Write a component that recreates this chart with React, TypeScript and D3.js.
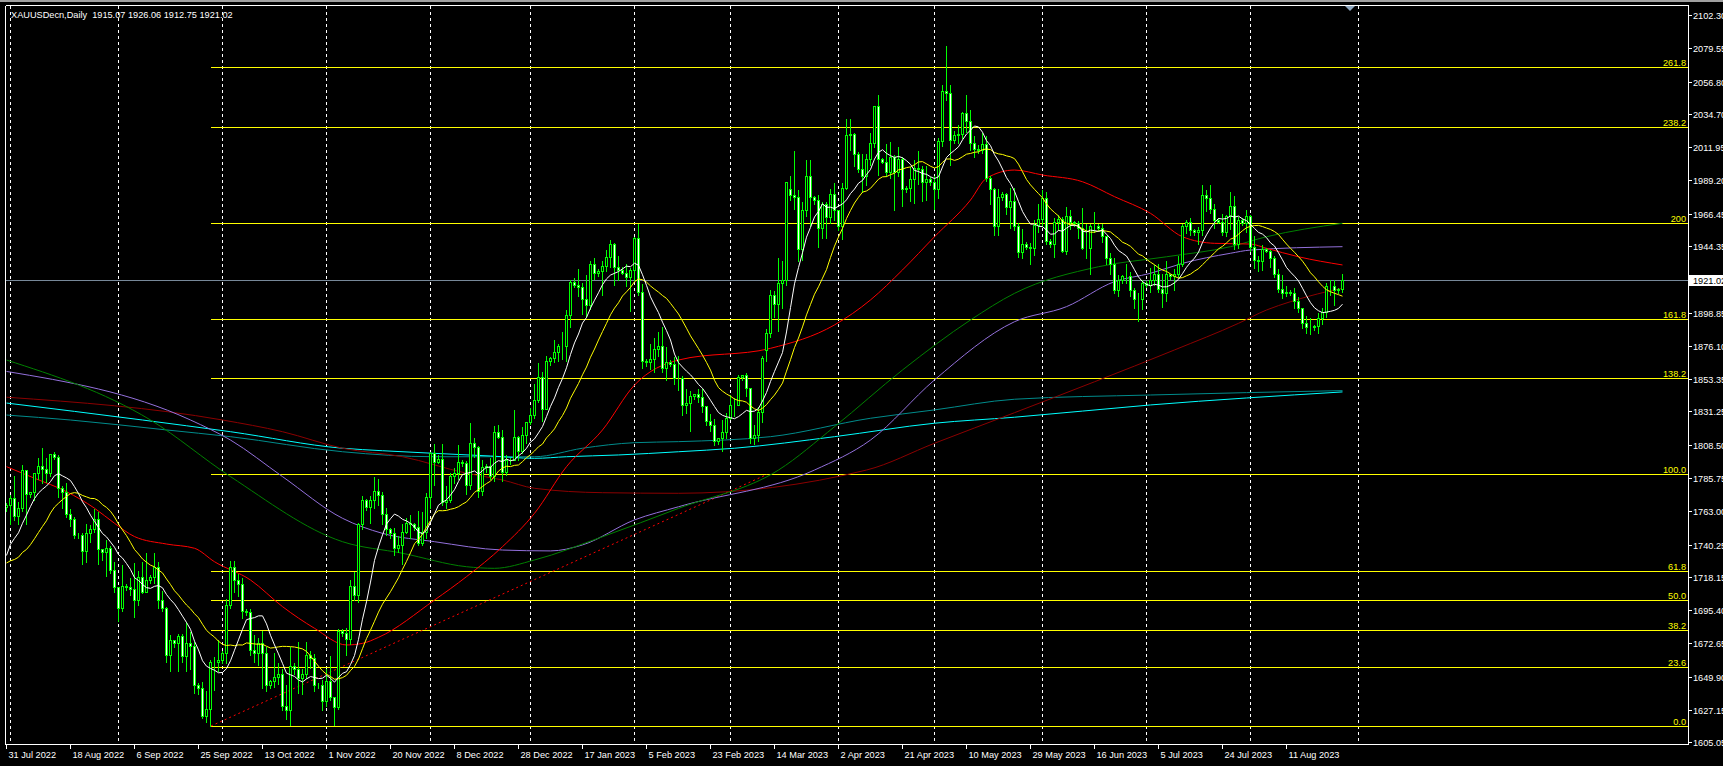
import React, { useEffect } from "react";
import * as d3 from "d3";

// ---------- Daily candles [open, high, low, close] by month (Sun–Fri bars) ----------
const jul22 = [[1766, 1769, 1763, 1767]];
const aug22 = [
  [1767, 1775, 1754, 1772], [1772, 1788, 1757, 1760], [1760, 1770, 1754, 1765], [1765, 1795, 1763, 1791], [1791, 1792, 1754, 1775],
  [1775, 1777, 1773, 1776], [1776, 1790, 1771, 1789], [1789, 1800, 1785, 1794], [1794, 1807, 1782, 1792], [1792, 1800, 1783, 1789], [1789, 1803, 1787, 1802],
  [1802, 1804, 1799, 1800], [1800, 1802, 1773, 1779], [1779, 1781, 1765, 1776], [1776, 1783, 1759, 1761], [1761, 1765, 1753, 1758], [1758, 1760, 1745, 1747],
  [1747, 1749, 1745, 1747], [1747, 1749, 1727, 1736], [1736, 1755, 1728, 1748], [1748, 1754, 1742, 1751], [1751, 1765, 1749, 1758], [1758, 1763, 1727, 1737],
  [1737, 1738, 1730, 1735], [1735, 1744, 1719, 1738], [1738, 1740, 1721, 1723], [1723, 1729, 1708, 1711],
];
const sep22 = [
  [1711, 1712, 1688, 1697], [1697, 1727, 1695, 1712],
  [1712, 1714, 1709, 1711], [1711, 1718, 1706, 1710], [1710, 1728, 1691, 1702], [1702, 1723, 1699, 1718], [1718, 1729, 1707, 1708], [1708, 1735, 1708, 1716],
  [1716, 1720, 1714, 1718], [1718, 1735, 1714, 1725], [1725, 1729, 1697, 1702], [1702, 1709, 1695, 1697], [1697, 1698, 1660, 1665], [1665, 1679, 1654, 1675],
  [1675, 1676, 1670, 1673], [1673, 1680, 1654, 1678], [1678, 1680, 1660, 1664], [1664, 1688, 1654, 1673], [1673, 1681, 1655, 1671], [1671, 1674, 1639, 1644],
  [1644, 1646, 1638, 1642], [1642, 1647, 1622, 1623], [1623, 1641, 1619, 1628], [1628, 1662, 1616, 1660], [1660, 1664, 1641, 1660], [1660, 1676, 1654, 1661],
];
const oct22 = [
  [1661, 1668, 1659, 1666], [1666, 1704, 1659, 1699], [1699, 1730, 1697, 1725], [1725, 1730, 1708, 1716], [1716, 1721, 1705, 1713], [1713, 1718, 1690, 1695],
  [1695, 1697, 1692, 1694], [1694, 1697, 1665, 1668], [1668, 1679, 1660, 1666], [1666, 1677, 1658, 1673], [1673, 1682, 1642, 1666], [1666, 1671, 1640, 1644],
  [1644, 1648, 1642, 1647], [1647, 1667, 1643, 1650], [1650, 1660, 1645, 1652], [1652, 1656, 1627, 1630], [1630, 1645, 1621, 1627], [1627, 1671, 1617, 1657],
  [1657, 1660, 1652, 1655], [1655, 1674, 1639, 1649], [1649, 1656, 1638, 1652], [1652, 1674, 1649, 1665], [1665, 1668, 1656, 1663], [1663, 1666, 1640, 1644],
  [1644, 1646, 1642, 1644], [1644, 1648, 1627, 1633],
];
const nov22 = [
  [1633, 1656, 1630, 1647], [1647, 1665, 1634, 1636], [1636, 1637, 1617, 1629], [1629, 1683, 1628, 1681],
  [1681, 1683, 1678, 1680], [1680, 1684, 1665, 1676], [1676, 1717, 1672, 1712], [1712, 1722, 1702, 1706], [1706, 1756, 1701, 1754], [1754, 1774, 1751, 1771],
  [1771, 1772, 1764, 1766], [1766, 1774, 1755, 1771], [1771, 1787, 1765, 1777], [1777, 1786, 1767, 1774], [1774, 1777, 1754, 1761], [1761, 1766, 1747, 1751],
  [1751, 1752, 1745, 1748], [1748, 1752, 1733, 1738], [1738, 1747, 1735, 1740], [1740, 1755, 1727, 1749], [1749, 1759, 1748, 1755], [1755, 1761, 1745, 1754],
  [1754, 1756, 1750, 1752], [1752, 1764, 1740, 1741], [1741, 1763, 1740, 1749], [1749, 1776, 1745, 1773],
];
const dec22 = [
  [1773, 1804, 1765, 1803], [1803, 1810, 1781, 1797],
  [1797, 1802, 1796, 1799], [1799, 1810, 1767, 1769], [1769, 1781, 1765, 1771], [1771, 1790, 1769, 1787], [1787, 1793, 1782, 1789], [1789, 1809, 1785, 1797],
  [1797, 1799, 1794, 1796], [1796, 1798, 1775, 1781], [1781, 1824, 1778, 1810], [1810, 1814, 1800, 1807], [1807, 1808, 1773, 1777], [1777, 1799, 1774, 1793],
  [1793, 1796, 1790, 1794], [1794, 1800, 1785, 1787], [1787, 1822, 1784, 1817], [1817, 1823, 1813, 1814], [1814, 1819, 1784, 1790], [1790, 1802, 1788, 1798],
  [1798, 1800, 1795, 1798], [1798, 1833, 1798, 1814], [1814, 1815, 1798, 1804], [1804, 1821, 1803, 1815], [1815, 1825, 1810, 1824],
];
const jan23 = [
  [1824, 1834, 1823, 1829], [1829, 1851, 1827, 1839], [1839, 1865, 1838, 1855], [1855, 1859, 1825, 1833], [1833, 1870, 1833, 1866],
  [1866, 1869, 1863, 1868], [1868, 1881, 1865, 1872], [1872, 1878, 1866, 1876], [1876, 1886, 1867, 1876], [1876, 1901, 1866, 1897], [1897, 1922, 1889, 1920],
  [1920, 1923, 1916, 1918], [1918, 1929, 1910, 1916], [1916, 1920, 1898, 1908], [1908, 1925, 1896, 1904], [1904, 1935, 1901, 1932], [1932, 1937, 1922, 1926],
  [1926, 1929, 1924, 1927], [1927, 1935, 1911, 1931], [1931, 1942, 1927, 1937], [1937, 1949, 1930, 1946], [1946, 1947, 1918, 1930], [1930, 1938, 1921, 1928],
  [1928, 1931, 1925, 1926], [1926, 1933, 1917, 1923], [1923, 1930, 1900, 1928],
];
const feb23 = [
  [1928, 1951, 1921, 1950], [1950, 1960, 1911, 1913], [1913, 1919, 1861, 1866],
  [1866, 1868, 1862, 1865], [1865, 1878, 1860, 1867], [1867, 1882, 1858, 1874], [1874, 1886, 1869, 1876], [1876, 1890, 1858, 1861], [1861, 1876, 1853, 1865],
  [1865, 1867, 1862, 1864], [1864, 1869, 1850, 1854], [1854, 1870, 1846, 1854], [1854, 1856, 1829, 1836], [1836, 1847, 1830, 1837], [1837, 1846, 1818, 1842],
  [1842, 1844, 1840, 1843], [1843, 1847, 1838, 1841], [1841, 1847, 1831, 1835], [1835, 1836, 1822, 1825], [1825, 1830, 1818, 1822], [1822, 1827, 1808, 1811],
  [1811, 1814, 1809, 1813], [1813, 1826, 1804, 1817], [1817, 1831, 1813, 1827],
];
const mar23 = [
  [1827, 1843, 1826, 1836], [1836, 1841, 1828, 1836], [1836, 1857, 1836, 1855],
  [1855, 1857, 1853, 1856], [1856, 1858, 1842, 1847], [1847, 1848, 1810, 1813], [1813, 1823, 1809, 1815], [1815, 1835, 1811, 1831], [1831, 1870, 1824, 1868],
  [1873, 1888, 1866, 1885], [1885, 1915, 1882, 1911], [1911, 1914, 1896, 1905], [1905, 1937, 1886, 1919], [1919, 1935, 1902, 1921], [1921, 1989, 1918, 1988],
  [1983, 1993, 1976, 1979], [1979, 2010, 1970, 1978], [1978, 1983, 1934, 1942], [1942, 1975, 1935, 1969], [1969, 2004, 1965, 1992], [1992, 2004, 1958, 1978],
  [1978, 1979, 1973, 1976], [1976, 1980, 1944, 1957], [1957, 1975, 1950, 1973], [1973, 1975, 1950, 1964], [1964, 1984, 1960, 1980], [1980, 1988, 1962, 1969],
];
const apr23 = [
  [1969, 1970, 1955, 1958], [1958, 1988, 1949, 1984], [1984, 2032, 1983, 2020], [2020, 2032, 2010, 2021], [2021, 2022, 1999, 2007],
  [2007, 2009, 1995, 1997], [1997, 2008, 1981, 1992], [1992, 2008, 1986, 2004], [2004, 2022, 2000, 2015], [2015, 2041, 2012, 2040], [2040, 2048, 1993, 2004],
  [2004, 2005, 2001, 2002], [2002, 2015, 1992, 1995], [1995, 2016, 1991, 2005], [2005, 2007, 1969, 1995], [1995, 2013, 1992, 2004], [2004, 2006, 1972, 1983],
  [1983, 1986, 1981, 1984], [1984, 1999, 1975, 1990], [1990, 2004, 1974, 1998], [1998, 2010, 1987, 1997], [1997, 2000, 1975, 1988], [1988, 2000, 1976, 1990],
  [1990, 1992, 1986, 1988],
];
const may23 = [
  [1988, 1993, 1970, 1983], [1983, 2019, 1977, 2016], [2016, 2055, 2013, 2050], [2050, 2082, 2044, 2049], [2049, 2055, 2000, 2017],
  [2017, 2024, 2015, 2020], [2020, 2028, 2015, 2021], [2021, 2037, 2018, 2035], [2035, 2048, 2022, 2030], [2030, 2038, 2010, 2015], [2015, 2020, 2005, 2011],
  [2011, 2014, 2008, 2010], [2010, 2022, 2008, 2014], [2014, 2020, 1989, 1991], [1991, 1993, 1973, 1983], [1983, 1985, 1952, 1958], [1958, 1984, 1952, 1978],
  [1978, 1982, 1976, 1980], [1980, 1981, 1966, 1971], [1971, 1985, 1957, 1975], [1975, 1985, 1955, 1958], [1958, 1961, 1937, 1940], [1940, 1957, 1936, 1946],
  [1946, 1948, 1942, 1944], [1944, 1947, 1932, 1943], [1943, 1963, 1938, 1959], [1959, 1974, 1954, 1963],
];
const jun23 = [
  [1963, 1983, 1958, 1977], [1977, 1982, 1946, 1948],
  [1948, 1950, 1944, 1946], [1946, 1964, 1937, 1961], [1961, 1966, 1955, 1963], [1963, 1965, 1940, 1941], [1941, 1972, 1939, 1965], [1965, 1970, 1956, 1961],
  [1961, 1962, 1958, 1960], [1960, 1962, 1950, 1957], [1957, 1971, 1942, 1943], [1943, 1960, 1936, 1943], [1943, 1960, 1925, 1958], [1958, 1968, 1954, 1958],
  [1958, 1960, 1955, 1957], [1957, 1960, 1947, 1951], [1951, 1952, 1932, 1936], [1936, 1940, 1925, 1932], [1932, 1937, 1912, 1914], [1914, 1925, 1910, 1921],
  [1921, 1925, 1919, 1924], [1924, 1933, 1919, 1924], [1924, 1927, 1910, 1914], [1914, 1916, 1902, 1908], [1908, 1913, 1893, 1908], [1908, 1922, 1901, 1919],
];
const jul23 = [
  [1919, 1921, 1916, 1918], [1918, 1930, 1913, 1921], [1921, 1932, 1918, 1925], [1925, 1933, 1913, 1915], [1915, 1926, 1903, 1912], [1912, 1935, 1907, 1925],
  [1925, 1926, 1922, 1924], [1924, 1929, 1914, 1925], [1925, 1938, 1923, 1932], [1932, 1960, 1931, 1958], [1958, 1963, 1953, 1961], [1961, 1964, 1952, 1955],
  [1955, 1957, 1952, 1954], [1954, 1958, 1946, 1955], [1955, 1987, 1952, 1979], [1979, 1983, 1968, 1977], [1977, 1987, 1967, 1970], [1970, 1974, 1957, 1962],
  [1962, 1964, 1960, 1961], [1961, 1967, 1952, 1954], [1954, 1966, 1951, 1965], [1965, 1982, 1956, 1972], [1972, 1979, 1942, 1946], [1946, 1965, 1943, 1962],
  [1962, 1964, 1959, 1960], [1960, 1970, 1954, 1965],
];
const aug23 = [
  [1965, 1966, 1941, 1944], [1944, 1952, 1929, 1935], [1935, 1938, 1927, 1934], [1934, 1946, 1928, 1942],
  [1942, 1944, 1940, 1941], [1941, 1942, 1930, 1936], [1936, 1938, 1923, 1925], [1925, 1929, 1913, 1915], [1915, 1925, 1909, 1912], [1912, 1918, 1910, 1913],
  [1913, 1915, 1911, 1912], [1912, 1916, 1902, 1907], [1907, 1910, 1899, 1902], [1902, 1903, 1888, 1892], [1892, 1897, 1885, 1889], [1889, 1896, 1884, 1889],
  [1889, 1891, 1887, 1890], [1890, 1899, 1885, 1895], [1895, 1903, 1891, 1899], [1899, 1920, 1896, 1917], [1917, 1922, 1911, 1917], [1917, 1922, 1904, 1914],
  [1914, 1916, 1912, 1915], [1915.07, 1926.06, 1912.75, 1921.02],
];
// closes of the bars just before the visible window (for the fast averages)
const priorCloses = [1742, 1742, 1734, 1725, 1735, 1710, 1708, 1709, 1709, 1711, 1696, 1719, 1727, 1726, 1719, 1717, 1735, 1756, 1766];

// ---------- slow moving averages: [bar, value] ----------
const redMA = [[0, 1793.5], [7, 1785.6], [15, 1776.4], [22, 1765.1], [27, 1754.8], [32, 1745.7], [40, 1740.6], [47, 1737.7], [52, 1728.5], [61, 1716], [69, 1697.8], [77, 1683], [85, 1671.6], [89, 1672.7], [93, 1676.8], [107, 1702.3], [115, 1718.3], [124, 1738.8], [132, 1761.6], [140, 1793.5], [149, 1818.6], [157, 1849.3], [168, 1866.4], [191, 1874.4], [207, 1890.4], [216, 1907.5], [224, 1928], [232, 1950.7], [241, 1975.8], [245, 1990.7], [252, 1996.3], [259, 1992.9], [269, 1988.3], [277, 1978.1], [286, 1966.7], [294, 1950.7], [302, 1946.2], [311, 1945.7], [315, 1942.8], [323, 1937], [334, 1931.4]];
const greenMA = [[0, 1866.4], [36, 1825.4], [56, 1786.7], [84, 1742.2], [99, 1734.3], [115, 1725.1], [122, 1724], [132, 1729.7], [149, 1745.6], [168, 1765], [193, 1791.2], [207, 1820.8], [224, 1859.6], [241, 1893.8], [252, 1912], [273, 1930.2], [290, 1937], [306, 1943.9], [315, 1950.7], [334, 1959.9]];
const purpleMA = [[0, 1858.6], [46, 1825.4], [56, 1811.7], [69, 1786.7], [84, 1758.2], [94, 1747.9], [107, 1742.2], [124, 1736.5], [136, 1735.9], [144, 1740], [157, 1757.1], [168, 1766.1], [202, 1791.2], [216, 1811.7], [232, 1852.8], [252, 1892.6], [265, 1902.9], [277, 1920], [286, 1925.7], [294, 1932.5], [306, 1939.4], [311, 1941.6], [334, 1943.9]];
const maroonMA = [[0, 1841], [54, 1825.4], [69, 1817.4], [84, 1806.1], [99, 1800.3], [115, 1789], [124, 1784.4], [132, 1778.7], [149, 1775.7], [168, 1775.3], [215, 1791.2], [232, 1809.5], [252, 1830.4], [292, 1873.3], [308, 1891.5], [315, 1900.6], [321, 1906.3], [330, 1913.1], [334, 1915.5]];
const cyanMA = [[0, 1837], [34, 1825.4], [56, 1817.4], [84, 1806.1], [94, 1804.4], [107, 1802.6], [121, 1800.8], [132, 1799.2], [140, 1800.3], [153, 1801.5], [168, 1803.7], [182, 1806.1], [207, 1814], [232, 1823.2], [252, 1827.3], [286, 1835.7], [334, 1844.6]];
const tealMA = [[0, 1828.8], [16, 1825.4], [40, 1818.6], [56, 1814], [84, 1803.7], [107, 1800.3], [132, 1800.3], [144, 1806.1], [157, 1809.9], [168, 1810.6], [191, 1814], [216, 1826.6], [232, 1832.3], [252, 1839.6], [286, 1842.5], [334, 1845.5]];

// ---------- Fibonacci expansion ----------
const fibAnchors = [[51, 1616.2], [190, 1788.2]];
const fibLevels = [0, 23.6, 38.2, 50, 61.8, 100, 138.2, 161.8, 200, 238.2, 261.8];
const fibLabels = ["0.0", "23.6", "38.2", "50.0", "61.8", "100.0", "138.2", "161.8", "200", "238.2", "261.8"];

// ---------- axes ----------
const priceTicks = ["2102.30", "2079.55", "2056.80", "2034.70", "2011.95", "1989.20", "1966.45", "1944.35", "1898.85", "1876.10", "1853.35", "1831.25", "1808.50", "1785.75", "1763.00", "1740.25", "1718.15", "1695.40", "1672.65", "1649.90", "1627.15", "1605.05"];
const timeLabels = ["31 Jul 2022", "18 Aug 2022", "6 Sep 2022", "25 Sep 2022", "13 Oct 2022", "1 Nov 2022", "20 Nov 2022", "8 Dec 2022", "28 Dec 2022", "17 Jan 2023", "5 Feb 2023", "23 Feb 2023", "14 Mar 2023", "2 Apr 2023", "21 Apr 2023", "10 May 2023", "29 May 2023", "16 Jun 2023", "5 Jul 2023", "24 Jul 2023", "11 Aug 2023"];
const LABEL_STEP = 16;
const monthStarts = [1, 28, 54, 80, 106, 131, 157, 181, 208, 232, 259, 285, 311, 338];
const TITLE = "XAUUSDecn,Daily  1915.07 1926.06 1912.75 1921.02";
const LAST_PRICE = 1921.02;

const bars: number[][] = [jul22, aug22, sep22, oct22, nov22, dec22, jan23, feb23, mar23, apr23, may23, jun23, jul23, aug23].flat();

const FONT = "'Liberation Sans', Arial, sans-serif";
const LEFT = 5.5, TOP = 5.5, RIGHT = 1688.5, BOTTOM = 744.5;

function sma(period: number) {
  const all = priorCloses.concat(bars.map((b) => b[3]));
  const off = priorCloses.length;
  return bars.map((_, i) => {
    const win = all.slice(off + i - period + 1, off + i + 1);
    return d3.mean(win) as number;
  });
}

export default function App() {
  useEffect(() => {
    document.body.style.margin = "0";
    document.body.style.background = "#000";
  }, []);

  const x = d3.scaleLinear().domain([0, 420]).range([7, 1687]);
  const y = d3.scaleLinear().domain([1605.05, 2102.3]).range([742.3, 15]);
  const px = (i: number) => Math.round(x(i)) - 0.5;
  const py = (v: number) => Math.round(y(v)) + 0.5;

  const smoothLine = d3.line<number[]>().x((d) => x(d[0]) - 0.5).y((d) => y(d[1])).curve(d3.curveMonotoneX);
  const rawLine = d3.line<number>().x((_, i) => x(i) - 0.5).y((d) => y(d));

  const white = sma(10);
  const yellow = sma(20);

  const fibRange = fibAnchors[1][1] - fibAnchors[0][1];
  const fibPrice = (lvl: number) => fibAnchors[0][1] + (fibRange * lvl) / 100;

  const slow: [number[][], string][] = [
    [tealMA, "#008B8B"],
    [cyanMA, "#00FFFF"],
    [maroonMA, "#8B0000"],
    [purpleMA, "#9370DB"],
    [greenMA, "#008000"],
    [redMA, "#FF0000"],
  ];

  return (
    <svg width={1723} height={766} style={{ position: "absolute", left: 0, top: 0, background: "#000" }} fontFamily={FONT}>
      <defs>
        <clipPath id="plot">
          <rect x={6} y={6} width={1682} height={738} />
        </clipPath>
      </defs>
      <rect x={0} y={0} width={1723} height={766} fill="#000" />
      <rect x={0} y={0} width={1723} height={2} fill="#a0a0a0" />

      {/* vertical grid at month starts */}
      <g stroke="#fff" strokeDasharray="3,3" shapeRendering="crispEdges">
        {monthStarts.map((m) => (
          <line key={m} x1={px(m)} x2={px(m)} y1={TOP} y2={BOTTOM} />
        ))}
      </g>

      <g clipPath="url(#plot)">
        {/* fibonacci levels */}
        <g stroke="#FFFF00" shapeRendering="crispEdges">
          {fibLevels.map((l) => (
            <line key={l} x1={px(fibAnchors[0][0])} x2={RIGHT} y1={py(fibPrice(l))} y2={py(fibPrice(l))} />
          ))}
        </g>
        <line
          x1={x(fibAnchors[0][0])}
          y1={y(fibAnchors[0][1])}
          x2={x(fibAnchors[1][0])}
          y2={y(fibAnchors[1][1])}
          stroke="#FF0000"
          strokeDasharray="2,3"
        />

        {/* current price line */}
        <line x1={LEFT} x2={RIGHT} y1={py(LAST_PRICE)} y2={py(LAST_PRICE)} stroke="#778899" shapeRendering="crispEdges" />

        {/* slow averages */}
        {slow.map(([d, c], k) => (
          <path key={k} d={smoothLine(d) as string} fill="none" stroke={c} strokeWidth={1} />
        ))}

        {/* candles */}
        <g shapeRendering="crispEdges">
          {bars.map((b, i) => {
            const [o, h, l, c] = b;
            const cx = px(i);
            const yo = Math.round(y(o));
            const yc = Math.round(y(c));
            const top = Math.min(yo, yc);
            const bot = Math.max(yo, yc);
            return (
              <g key={i}>
                <line x1={cx} x2={cx} y1={py(h)} y2={py(l)} stroke="#00FF00" />
                <rect x={cx - 1} y={top + 0.5} width={2} height={Math.max(bot - top, 0)} fill={c > o ? "#000" : "#fff"} stroke="#00FF00" />
              </g>
            );
          })}
        </g>

        {/* fast averages */}
        <path d={rawLine(yellow) as string} fill="none" stroke="#FFFF00" strokeWidth={1} />
        <path d={rawLine(white) as string} fill="none" stroke="#FFFFFF" strokeWidth={1} />
      </g>

      {/* fib labels */}
      <g fill="#FFFF00" fontSize={9.2} textAnchor="end">
        {fibLevels.map((l, k) => (
          <text key={l} x={1686} y={py(fibPrice(l)) - 2}>
            {fibLabels[k]}
          </text>
        ))}
      </g>

      {/* frame */}
      <g stroke="#fff" shapeRendering="crispEdges" fill="none">
        <line x1={LEFT} x2={RIGHT} y1={TOP} y2={TOP} />
        <line x1={LEFT} x2={LEFT} y1={TOP} y2={BOTTOM} />
        <line x1={RIGHT} x2={RIGHT} y1={TOP} y2={BOTTOM} />
        <line x1={LEFT} x2={RIGHT} y1={BOTTOM} y2={BOTTOM} />
      </g>

      {/* price axis */}
      <g fill="#fff" fontSize={9.2}>
        {priceTicks.map((t) => {
          const yy = py(+t);
          return (
            <g key={t}>
              <line x1={RIGHT} x2={RIGHT + 3} y1={yy} y2={yy} stroke="#fff" shapeRendering="crispEdges" />
              <text x={1693} y={yy + 3.3}>
                {t}
              </text>
            </g>
          );
        })}
      </g>
      <rect x={1689} y={py(LAST_PRICE) - 5.5} width={34} height={11} fill="#fff" />
      <text x={1693} y={py(LAST_PRICE) + 3.3} fontSize={9.2} fill="#000">
        {LAST_PRICE.toFixed(2)}
      </text>

      {/* time axis */}
      <g fill="#fff" fontSize={9.2}>
        {timeLabels.map((t, k) => {
          const xx = px(k * LABEL_STEP);
          return (
            <g key={t}>
              <line x1={xx} x2={xx} y1={BOTTOM} y2={BOTTOM + 4} stroke="#fff" shapeRendering="crispEdges" />
              <text x={xx + 2} y={758}>
                {t}
              </text>
            </g>
          );
        })}
      </g>

      {/* chart shift marker */}
      <path d="M1345,6 L1355,6 L1350,11 Z" fill="#8fa8c0" />

      {/* title */}
      <text x={11} y={18} fill="#fff" fontSize={9.2} style={{ whiteSpace: "pre" }}>
        {TITLE}
      </text>
    </svg>
  );
}
